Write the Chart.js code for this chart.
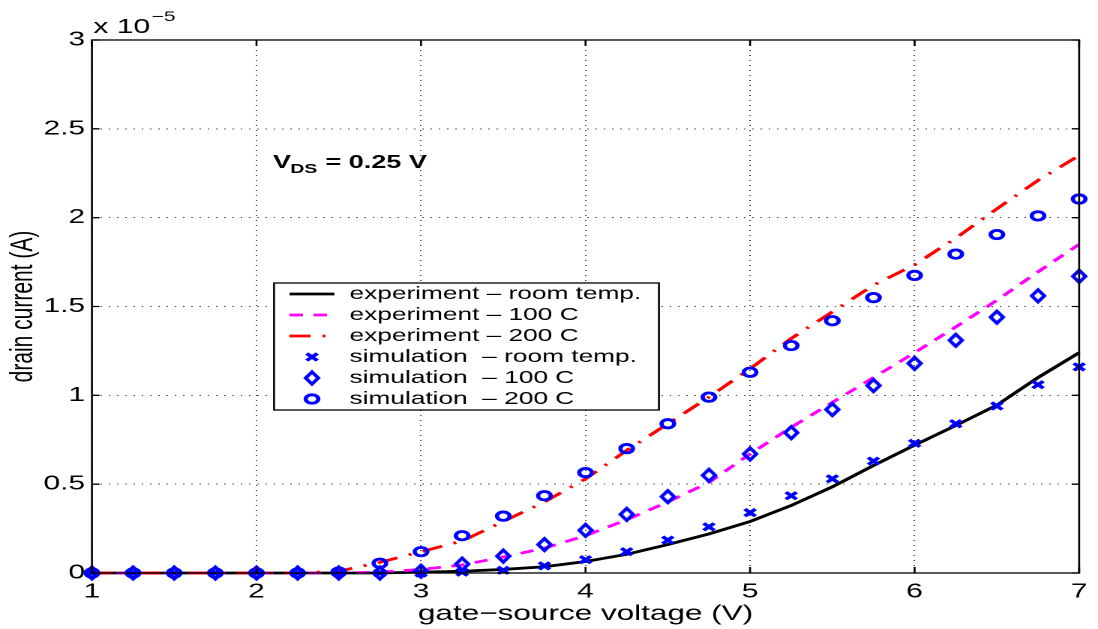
<!DOCTYPE html>
<html>
<head>
<meta charset="utf-8">
<script src="https://cdn.jsdelivr.net/npm/chart.js@4.4.1/dist/chart.umd.min.js"></script>
<style>
  html, body { margin: 0; padding: 0; background: #fff; overflow: hidden; }
  /* the figure is laid out narrow and then widened, like the stretched plot window */
  #wrap { width: 732px; height: 629px; transform: scaleX(1.5); transform-origin: 0 0; }
</style>
</head>
<body>
<div id="wrap"><canvas id="idChart"></canvas></div>
<script>
// gate-source voltage (V)
var gateV = [1, 1.25, 1.5, 1.75, 2, 2.25, 2.5, 2.75, 3, 3.25, 3.5, 3.75, 4, 4.25, 4.5, 4.75, 5, 5.25, 5.5, 5.75, 6, 6.25, 6.5, 6.75, 7];

// drain current, in units of 1e-5 A
var expRoom = [0, 0, 0, 0, 0, 0, 0, 0, 0.005, 0.01, 0.02, 0.035, 0.065, 0.105, 0.16, 0.22, 0.29, 0.38, 0.485, 0.605, 0.72, 0.83, 0.945, 1.10, 1.24];
var exp100 = [0, 0, 0, 0, 0, 0, 0, 0.005, 0.02, 0.045, 0.09, 0.14, 0.21, 0.30, 0.40, 0.51, 0.67, 0.82, 0.96, 1.10, 1.24, 1.385, 1.535, 1.695, 1.85];
var exp200 = [0, 0, 0, 0, 0, 0, 0.01, 0.06, 0.12, 0.18, 0.29, 0.40, 0.53, 0.69, 0.84, 0.99, 1.15, 1.32, 1.47, 1.62, 1.735, 1.885, 2.05, 2.21, 2.35];
var simRoom = [0, 0, 0, 0, 0, 0, 0, 0, 0, 0.005, 0.015, 0.04, 0.075, 0.12, 0.185, 0.26, 0.34, 0.435, 0.53, 0.63, 0.73, 0.84, 0.94, 1.06, 1.16];
var sim100 = [0, 0, 0, 0, 0, 0, 0, 0, 0.01, 0.05, 0.095, 0.16, 0.24, 0.33, 0.43, 0.55, 0.67, 0.79, 0.92, 1.055, 1.18, 1.31, 1.44, 1.56, 1.67];
var sim200 = [0, 0, 0, 0, 0, 0, 0.005, 0.055, 0.12, 0.21, 0.32, 0.435, 0.565, 0.70, 0.84, 0.99, 1.13, 1.28, 1.42, 1.55, 1.675, 1.795, 1.905, 2.01, 2.105];

var seriesLabels = ['experiment – room temp.', 'experiment – 100 C', 'experiment – 200 C',
                    'simulation  – room temp.', 'simulation  – 100 C', 'simulation  – 200 C'];

var FONT = '"Liberation Sans", Arial, Helvetica, sans-serif';
var BLUE = '#0000ff';

function pts(ys) {
    return ys.map(function (v, i) { return { x: gateV[i], y: v }; });
}

// tall diamond marker, drawn at 4x then shown at 14x20
function diamondMarker() {
    var w = 14, h = 20, s = 4;
    var c = document.createElement('canvas');
    c.width = w * s; c.height = h * s;
    var g = c.getContext('2d');
    g.scale(s, s);
    g.strokeStyle = BLUE;
    g.lineWidth = 2.7;
    g.lineJoin = 'miter';
    g.beginPath();
    g.moveTo(7, 4); g.lineTo(11.2, 10); g.lineTo(7, 16); g.lineTo(2.8, 10);
    g.closePath();
    g.stroke();
    var img = new Image(w, h);
    img.src = c.toDataURL();
    return img;
}

function lineSet(i, ys, color, dash, order) {
    return {
        label: seriesLabels[i], data: pts(ys), showLine: true,
        borderColor: color, borderWidth: 2.8, borderDash: dash,
        pointRadius: 0, tension: 0, order: order, clip: false
    };
}

function markSet(i, ys, style, radius, bw) {
    return {
        label: seriesLabels[i], data: pts(ys), showLine: false,
        pointStyle: style, pointRadius: radius, borderColor: BLUE,
        backgroundColor: 'rgba(0,0,0,0)', pointBorderWidth: bw, order: 0, clip: false
    };
}

var frame = {
    id: 'frame',
    afterDatasetsDraw: function (chart) {
        var ctx = chart.ctx, a = chart.chartArea;
        var xs = chart.scales.x, ys = chart.scales.y;
        ctx.save();

        // box and inward ticks on all four sides
        ctx.strokeStyle = '#000';
        ctx.lineWidth = 1.3;
        ctx.strokeRect(a.left, a.top, a.right - a.left, a.bottom - a.top);
        ctx.beginPath();
        xs.ticks.forEach(function (t) {
            var px = xs.getPixelForValue(t.value);
            ctx.moveTo(px, a.bottom); ctx.lineTo(px, a.bottom - 6);
            ctx.moveTo(px, a.top); ctx.lineTo(px, a.top + 6);
        });
        ys.ticks.forEach(function (t) {
            var py = ys.getPixelForValue(t.value);
            ctx.moveTo(a.left, py); ctx.lineTo(a.left + 5, py);
            ctx.moveTo(a.right, py); ctx.lineTo(a.right - 5, py);
        });
        ctx.stroke();

        // axis multiplier
        ctx.fillStyle = '#000';
        ctx.textBaseline = 'alphabetic';
        ctx.textAlign = 'left';
        ctx.font = '20px ' + FONT;
        ctx.fillText('x 10', a.left + 1, 33);
        var w10 = ctx.measureText('x 10').width;
        ctx.font = '14px ' + FONT;
        ctx.fillText('−5', a.left + 2 + w10, 21);

        // V_DS note
        var nx = xs.getPixelForValue(2.1), ny = ys.getPixelForValue(2.28);
        ctx.font = 'bold 18px ' + FONT;
        ctx.fillText('V', nx, ny);
        var wv = ctx.measureText('V').width;
        ctx.font = 'bold 13px ' + FONT;
        ctx.fillText('DS', nx + wv - 0.5, ny + 5);
        var wd = ctx.measureText('DS').width;
        ctx.font = 'bold 18px ' + FONT;
        ctx.fillText(' = 0.25 V', nx + wv + wd, ny);

        // legend box
        var lx = 182.7, ly = 283, lw = 256.6, lh = 127;
        ctx.fillStyle = '#fff';
        ctx.fillRect(lx, ly, lw, lh);
        ctx.strokeStyle = '#000';
        ctx.lineWidth = 1.3;
        ctx.strokeRect(lx, ly, lw, lh);
        ctx.font = '17.5px ' + FONT;
        ctx.textBaseline = 'middle';
        chart.data.datasets.forEach(function (ds, i) {
            var ry = 294 + i * 21;
            if (ds.showLine) {
                ctx.save();
                ctx.strokeStyle = ds.borderColor;
                ctx.lineWidth = ds.borderWidth;
                ctx.setLineDash(ds.borderDash || []);
                ctx.beginPath();
                ctx.moveTo(193, ry); ctx.lineTo(223, ry);
                ctx.stroke();
                ctx.restore();
            } else {
                ctx.save();
                ctx.strokeStyle = ds.borderColor;
                ctx.fillStyle = 'rgba(0,0,0,0)';
                ctx.lineWidth = ds.pointBorderWidth;
                Chart.helpers.drawPoint(ctx, {
                    pointStyle: ds.pointStyle, radius: ds.pointRadius,
                    rotation: 0, borderWidth: ds.pointBorderWidth
                }, 208, ry);
                ctx.restore();
            }
            ctx.fillStyle = '#000';
            ctx.fillText(ds.label, 233, ry);
        });

        ctx.restore();
    }
};

function renderChart(diamond) {
    var ctx = document.getElementById('idChart').getContext('2d');
    var tickFont = { family: FONT, size: 20 };
    var titleFont = { family: FONT, size: 21 };
    var gridLines = { color: 'rgba(0,0,0,0.7)', lineWidth: 1, drawTicks: false };
    var plain = function (v) { return String(v); };

    new Chart(ctx, {
        type: 'scatter',
        data: {
            datasets: [
                lineSet(0, expRoom, '#000000', [], 3),
                lineSet(1, exp100, '#ff00ff', [9, 7], 2),
                lineSet(2, exp200, '#ff0000', [14, 8, 2, 8], 1),
                markSet(3, simRoom, 'crossRot', 5, 3),
                markSet(4, sim100, diamond, 6, 2.7),
                markSet(5, sim200, 'circle', 4.2, 2.8)
            ]
        },
        options: {
            animation: false,
            responsive: true,
            maintainAspectRatio: false,
            devicePixelRatio: 2,
            layout: { padding: { top: 40, right: 10, left: 0, bottom: 0 } },
            plugins: { legend: { display: false }, tooltip: { enabled: false } },
            scales: {
                x: {
                    type: 'linear', min: 1, max: 7,
                    ticks: { stepSize: 1, color: '#000', font: tickFont, padding: 7, maxRotation: 0, callback: plain },
                    grid: gridLines,
                    border: { display: false, dash: [1, 4] },
                    title: { display: true, text: 'gate−source voltage (V)', color: '#000', font: titleFont, padding: { top: 0, bottom: 2 } },
                    afterFit: function (s) { s.height = 56; }
                },
                y: {
                    min: 0, max: 3,
                    ticks: { stepSize: 0.5, color: '#000', font: tickFont, padding: 4.5, callback: plain },
                    grid: gridLines,
                    border: { display: false, dash: [1, 4.5] },
                    title: { display: true, text: 'drain current (A)', color: '#000', font: titleFont, padding: { top: 3, bottom: 0 } },
                    afterFit: function (s) { s.width = 61.3; }
                }
            }
        },
        plugins: [frame]
    });
}

var diamond = diamondMarker();
diamond.onload = function () { renderChart(diamond); };
</script>
</body>
</html>
